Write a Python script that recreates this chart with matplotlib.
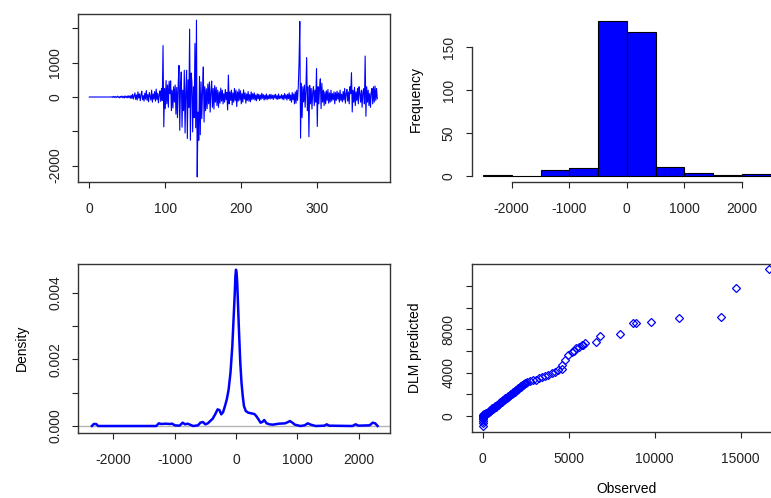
import numpy as np
import matplotlib.pyplot as plt

plt.rcParams['font.family'] = ['Liberation Sans', 'DejaVu Sans']
plt.rcParams['axes.unicode_minus'] = False

# residual series (top left)
resid = ([0] * 30
         + [10, -15, 20, -10, 15, -20, 5, 25, -15, 10, -25, 20, -10, 30, -20, 15, -30, 35, -15, 20,
            -25, 40, -20, 30, -35]
         + [50, -40, 80, -60, 30, 120, -70, 60, -90, 150, -30, 90, -110, 60, 170, -80, 40, -120, 110, -60,
            190, -100, 70, -140, 130, 20, -90, 200, -150, 90, -60, 160, -120, 230, -80, 110, -170, 60, 180, -130,
            250, -100]
         + [1500, -870, 250, -340, 480, -200, 350, -300, 460, 100, 470, -400, 200, -320, 300, -150, 350, -500,
            280, -600, 400, 920, -970, 300, 730, -880, 200, -400, 780, -1050, 150, 780, -1210, 500, -300, 1980,
            -1260, 700, 440, -1020, 300, -600, 1560, -900, 2240, -2330, -440, -1260, 600, -1100, 440, -630, 200,
            875, -730, 300, -400, 240, -340, 380, -200, 440, -440, 150, 466, -300, 250, -350, 330, -150, 280,
            -250, 200, -300, 150, -180, 260, -120, 200, -200, 100, -150, 220, -80, 130, -380, 640, -200, 150,
            -100, 200, -230, 120, -150, 250, -100]
         + [200, -280, 150, -120, 230, -90, 180, -200, 100, -150,
            210, -60, 120, -180, 90, -100, 160, -120, 70, -140,
            150, -80, 100, -60, 120, -90, 60, -110, 90, -50,
            80, -100, 60, -70, 110, -40, 70, -90, 50, -60,
            90, -80, 40, -50, 70, -60, 80, -40, 50, -70,
            60, -30, 80, -60, 40, -70, 90, -50, 30, -40,
            70, -60, 50, -80, 100, -40, 60, -90, 80, -50,
            120, -100, 60, -150, 130, -80, 90, -200]
         + [150, -180, 200, -100, 300, 1000, 2200, -1200, 400, -600, 300, -145, 350, -300, 200, 1150, -400,
            300, -1160, 340, -200, 250, -350, 150, 300, -250, 200, -150, 830, -860]
         + [300, -200, 250, 530, -340, 400, -150, 200, -250, 150,
            -200, 180, -100, 220, -180, 120, -150, 200, -120, 100,
            -80, 150, -200, 130, -100, 170, -60, 120, -150, 200,
            -100, 80, -140, 160, -90, 250, -180, 100, 220, -120,
            150, -200, 300, 100, 710, -437, 200, -150, 280, -250,
            150, -100, 250, -200, 300, 100, -150, 200, -300, 150,
            240, -200, 1195, -560, 300, -150, 200, -250, 100, -300,
            150, 250, -200, 300, -150, 320, -100, 250, -50])

# histogram (top right)
hist_left = [-2500, -2000, -1500, -1000, -500, 0, 500, 1000, 1500, 2000]
hist_counts = [1, 0, 7, 9, 180, 167, 11, 3, 1, 2]

# density curve (bottom left), values in units of 1e-3
dens_x = [-2350, -2320, -2280, -2250, -2200, -1300, -1260, -1220, -1150, -1080,
          -1040, -1000, -920, -870, -830, -790, -750, -700, -620, -580,
          -540, -500, -460, -420, -380, -340, -300, -270, -240, -210,
          -180, -150, -120, -90, -60, -40, -20, -10, 0, 10,
          20, 30, 50, 70, 90, 110, 130, 160, 200, 250,
          300, 330, 360, 400, 430, 460, 500, 550, 600, 700,
          800, 850, 880, 920, 960, 1050, 1120, 1170, 1220, 1300,
          1440, 1480, 1520, 1900, 1950, 2000, 2180, 2230, 2270, 2310]
dens_y = [0.0, 0.06, 0.06, 0.0, 0.0, 0.0, 0.08, 0.06, 0.07, 0.06,
          0.07, 0.02, 0.01, 0.1, 0.05, 0.07, 0.04, 0.0, 0.02, 0.1,
          0.12, 0.05, 0.08, 0.15, 0.22, 0.35, 0.5, 0.48, 0.35, 0.42,
          0.6, 0.8, 1.1, 1.6, 2.4, 3.2, 4.0, 4.5, 4.7, 4.6,
          4.3, 3.8, 2.8, 1.9, 1.3, 0.9, 0.6, 0.45, 0.4, 0.38,
          0.36, 0.3, 0.22, 0.1, 0.12, 0.18, 0.08, 0.05, 0.04, 0.07,
          0.08, 0.12, 0.15, 0.1, 0.04, 0.0, 0.02, 0.08, 0.04, 0.0,
          0.01, 0.05, 0.01, 0.0, 0.05, 0.01, 0.02, 0.1, 0.08, 0.0]

# observed vs DLM predicted (bottom right)
obs = [0, 0, 0, 0, 0, 5, 10, 15, 20, 30, 40, 50, 60, 80, 100, 120, 150, 180, 200,
       250, 300, 350, 400, 450, 500, 550, 600, 650, 700, 750, 800, 850, 900, 950, 1000,
       1050, 1100, 1150, 1200, 1250, 1300, 1350, 1400, 1450, 1500, 1550, 1600, 1650, 1700,
       1750, 1800, 1850, 1900, 1950, 2000, 2050, 2100, 2150, 2200, 2250, 2300, 2350, 2400,
       2450, 2500,
       280, 420, 560, 730, 880, 1020, 1180, 1320, 1480, 1620, 1780, 1930, 2080, 2230, 2380,
       2600, 2750, 2900, 3100, 3300, 3450, 3600, 3800, 4000, 4200, 4400, 4593, 4590, 4785,
       4977, 5174, 5300, 5450, 5599, 5756, 5850, 5948, 6570, 6802, 7983, 8720, 8895, 9800,
       11413, 13838, 14710, 16646]
pred = [-920, -650, -420, -250, -120, -50, 0, 60, -200, 100, 30, 150, 80, 180, 120, 200, 230, 260, 270,
        243, 306, 369, 432, 495, 558, 621, 684, 747, 810, 873, 936, 999, 1062, 1125, 1188,
        1251, 1314, 1377, 1440, 1503, 1566, 1629, 1692, 1755, 1818, 1881, 1944, 2007, 2070,
        2133, 2196, 2259, 2322, 2385, 2448, 2511, 2574, 2637, 2700, 2763, 2826, 2889, 2952,
        3015, 3060,
        360, 520, 700, 900, 1060, 1250, 1440, 1640, 1830, 2000, 2210, 2400, 2590, 2780, 2990,
        3100, 3200, 3300, 3350, 3550, 3600, 3700, 3800, 3950, 4100, 4250, 4314, 4712, 5174,
        5636, 5941, 6032, 6250, 6347, 6559, 6600, 6743, 6836, 7418, 7603, 8563, 8563, 8655,
        9026, 9118, 11797, 13552]

W, H = 771, 498
fig = plt.figure(figsize=(W / 100, H / 100), dpi=100)


def add_box(l, t, r, b):
    # pixel box -> figure fraction
    return fig.add_axes([l / W, 1 - b / H, (r - l) / W, (b - t) / H])


def r_style(ax):
    ax.tick_params(direction='out', length=4.5, width=0.8, labelsize=10,
                   colors='#222222', top=False, right=False)
    ax.tick_params(axis='x', pad=10)
    ax.tick_params(axis='y', labelrotation=90, pad=7)
    for lbl in ax.get_yticklabels():
        lbl.set_va('center')
    for sp in ax.spines.values():
        sp.set_color('#333333')
        sp.set_linewidth(1.0)


# top left: residual series
ax1 = add_box(78, 14, 390, 182)
ax1.plot(np.arange(len(resid)), resid, color='blue', lw=0.8)
ax1.set_xlim(-14.9, 395.7)
ax1.set_ylim(-2478, 2420)
ax1.set_xticks([0, 100, 200, 300])
ax1.set_yticks([-2000, -1000, 0, 1000, 2000])
ax1.set_yticklabels(['-2000', '', '0', '1000', ''])
r_style(ax1)

# top right: histogram
ax2 = add_box(471.5, 15, 782, 182.2)
ax2.bar(hist_left, hist_counts, width=500, align='edge', color='blue',
        edgecolor='black', linewidth=0.8)
ax2.set_xlim(-2700, 2700)
ax2.set_ylim(-7.2, 187.2)
ax2.set_xticks([-2000, -1000, 0, 1000, 2000])
ax2.set_xticklabels(['-2000', '-1000', '0', '1000', '2000'])
ax2.set_yticks([0, 50, 100, 150])
ax2.spines['top'].set_visible(False)
ax2.spines['right'].set_visible(False)
ax2.spines['left'].set_bounds(0, 150)
ax2.spines['bottom'].set_bounds(-2000, 2000)
ax2.set_ylabel('Frequency', fontsize=10, va='center')
ax2.yaxis.set_label_coords(-0.179, 0.5)
r_style(ax2)

# bottom left: density
ax3 = add_box(78, 263.7, 390, 432.7)
ax3.axhline(0, color='#b4b4b4', lw=1.0)
ax3.plot(dens_x, np.array(dens_y) * 1e-3, color='blue', lw=1.8)
ax3.set_xlim(-2577, 2512)
ax3.set_ylim(-0.0002015, 0.00488)
ax3.set_xticks([-2000, -1000, 0, 1000, 2000])
ax3.set_xticklabels(['-2000', '-1000', '0', '1000', '2000'])
ax3.set_yticks([0, 0.001, 0.002, 0.003, 0.004])
ax3.set_yticklabels(['0.000', '', '0.002', '', '0.004'])
ax3.set_ylabel('Density', fontsize=10, va='center')
ax3.yaxis.set_label_coords(-0.180, 0.5)
r_style(ax3)

# bottom right: observed vs predicted
ax4 = add_box(471.7, 263.7, 782, 432)
ax4.plot(obs, pred, 'D', mfc='none', mec='blue', ms=4.2, mew=0.9)
ax4.set_xlim(-640, 17401)
ax4.set_ylim(-1478, 14070)
ax4.set_xticks([0, 5000, 10000, 15000])
ax4.set_yticks([0, 2000, 4000, 6000, 8000, 10000, 12000])
ax4.set_yticklabels(['0', '', '4000', '', '8000', '', ''])
ax4.set_xlabel('Observed', fontsize=10, va='center')
ax4.xaxis.set_label_coords(0.5, -0.339)
ax4.set_ylabel('DLM predicted', fontsize=10, va='center')
ax4.yaxis.set_label_coords(-0.183, 0.5)
r_style(ax4)

fig.savefig('out.png', dpi=100)
